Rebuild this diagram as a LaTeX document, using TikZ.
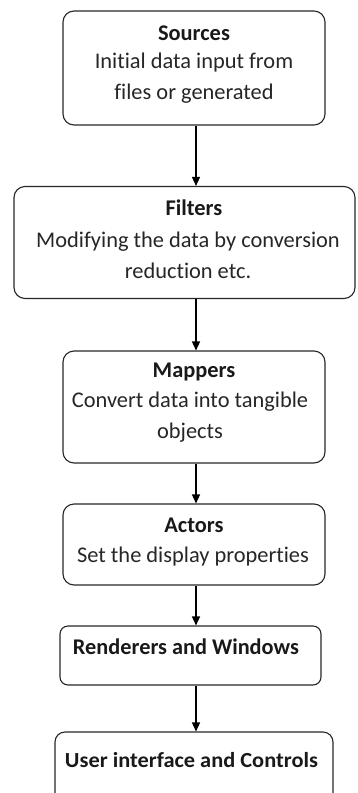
\documentclass[tikz,border=0pt]{standalone}
\usepackage{fontspec}
\setmainfont[Ligatures={NoCommon}]{Carlito}
\usetikzlibrary{arrows.meta}
\begin{document}
\begin{tikzpicture}[x=1pt,y=-1pt,
  stage/.style={draw=black!85, line width=1.1pt, rounded corners=11pt, inner sep=0pt},
  label/.style={font=\fontsize{22.4}{31}\selectfont, text=black!85, inner sep=0pt, align=center},
  head/.style={font=\fontsize{22.4}{31}\selectfont\bfseries, text=black!90, inner sep=0pt},
  flow/.style={draw=black, line width=1.3pt, -{Triangle[width=8pt,length=9pt]}}]
\useasboundingbox (0,0) rectangle (357,793);
\clip (0,0) rectangle (357,793);

% stage boxes (centre, width, height)
\node[stage, minimum width=262pt, minimum height=114pt] (src) at (194,68) {};
\node[stage, minimum width=341pt, minimum height=112pt] (flt) at (184.5,242.5) {};
\node[stage, minimum width=262pt, minimum height=112pt] (map) at (194,407) {};
\node[stage, minimum width=262pt, minimum height=81pt]  (act) at (194,544.5) {};
\node[stage, minimum width=261pt, minimum height=59pt, rounded corners=8pt] (ren) at (190.5,655.5) {};
\node[stage, minimum width=278pt, minimum height=90pt, rounded corners=10pt] (ui) at (194,777) {};

% texts
\node[head] (srcH) at (194,33) {Sources};
\node[label] (srcT) at (194,78.5) {Initial data input from\\files or generated};
\node[head] (fltH) at (194,208) {Filters};
\node[label] (fltT) at (188,255.5) {Modifying the data by conversion\\reduction etc.};
\node[head] (mapH) at (194,372) {Mappers};
\node[label] (mapT) at (190,417.5) {Convert data into tangible\\objects};
\node[head] (actH) at (194,525) {Actors};
\node[label] (actT) at (193,557) {Set the display properties};
\node[head] (renH) at (186,647) {\resizebox{226pt}{\height}{Renderers and Windows}};
\node[head, font=\fontsize{21.5}{24}\selectfont\bfseries] (uiH) at (191.5,760) {\resizebox{253pt}{\height}{User interface and Controls}};

% connectors
\draw[flow] (src.south -| 196,0) -- (flt.north -| 196,0);
\draw[flow] (flt.south -| 196,0) -- (map.north -| 196,0);
\draw[flow] (map.south -| 196,0) -- (act.north -| 196,0);
\draw[flow] (act.south -| 196,0) -- (ren.north -| 196,0);
\draw[flow] (ren.south -| 196,0) -- (ui.north -| 196,0);
\end{tikzpicture}
\end{document}
